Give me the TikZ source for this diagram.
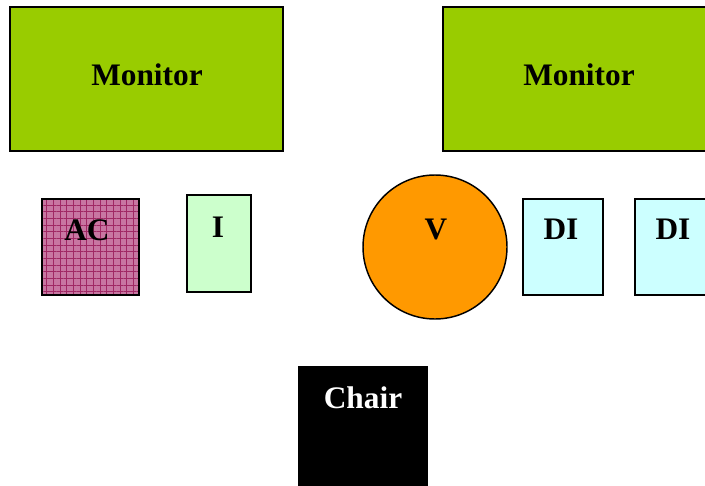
\documentclass[tikz,border=0pt]{standalone}
\usepackage{fontspec}
\setmainfont{Liberation Serif}
\usetikzlibrary{patterns.meta}
\begin{document}
\begin{tikzpicture}[x=0.75pt,y=0.75pt,yscale=-1,xscale=1]
\tikzset{lbl/.style={anchor=base,inner sep=0.75pt,font=\fontsize{23.5}{28}\selectfont\bfseries}}
\useasboundingbox (0,0) rectangle (705,485);

%Shape: Rectangle [id:monitor left]
\draw  [fill={rgb, 255:red, 153; green, 204; blue, 0 }  ][line width=1.1]  (10,7) -- (283,7) -- (283,151) -- (10,151) -- cycle ;
%Shape: Rectangle [id:monitor right]
\draw  [fill={rgb, 255:red, 153; green, 204; blue, 0 }  ][line width=1.1]  (443,7) -- (716,7) -- (716,151) -- (443,151) -- cycle ;
%Shape: Rectangle [id:ac]
\fill  [fill={rgb, 255:red, 200; green, 118; blue, 162 }  ]  (42,199) -- (139,199) -- (139,295) -- (42,295) -- cycle ;
\fill  [pattern={Lines[distance=5pt,angle=0,line width=0.6pt]}, pattern color={rgb, 255:red, 160; green, 40; blue, 100 }]  (42,199) -- (139,199) -- (139,295) -- (42,295) -- cycle ;
\fill  [pattern={Lines[distance=5pt,angle=90,line width=0.6pt]}, pattern color={rgb, 255:red, 160; green, 40; blue, 100 }]  (42,199) -- (139,199) -- (139,295) -- (42,295) -- cycle ;
\draw  [line width=1.1]  (42,199) -- (139,199) -- (139,295) -- (42,295) -- cycle ;
%Shape: Rectangle [id:i]
\draw  [fill={rgb, 255:red, 204; green, 255; blue, 204 }  ][line width=1.1]  (187,195) -- (251,195) -- (251,292) -- (187,292) -- cycle ;
%Shape: Circle [id:v]
\draw  [fill={rgb, 255:red, 255; green, 153; blue, 0 }  ][line width=1.1]  (435,247) circle [x radius=72, y radius=72] ;
%Shape: Rectangle [id:di left]
\draw  [fill={rgb, 255:red, 204; green, 255; blue, 255 }  ][line width=1.1]  (523,199) -- (603,199) -- (603,295) -- (523,295) -- cycle ;
%Shape: Rectangle [id:di right]
\draw  [fill={rgb, 255:red, 204; green, 255; blue, 255 }  ][line width=1.1]  (635,199) -- (715,199) -- (715,295) -- (635,295) -- cycle ;
%Shape: Rectangle [id:chair]
\fill  [black]  (298,366) -- (428,366) -- (428,490) -- (298,490) -- cycle ;

% Text Node
\draw (147,85) node (monA) [lbl]    {Monitor};
% Text Node
\draw (579,85) node (monB) [lbl]    {Monitor};
% Text Node
\draw (87,240) node (ac) [lbl]    {AC};
% Text Node
\draw (218,237) node (inp) [lbl]    {I};
% Text Node
\draw (436,239) node (v) [lbl]    {V};
% Text Node
\draw (561,239) node (diA) [lbl]    {DI};
% Text Node
\draw (673,239) node (diB) [lbl]    {DI};
% Text Node
\draw (363,408) node (chair) [lbl,text=white]    {Chair};

\end{tikzpicture}
\end{document}
